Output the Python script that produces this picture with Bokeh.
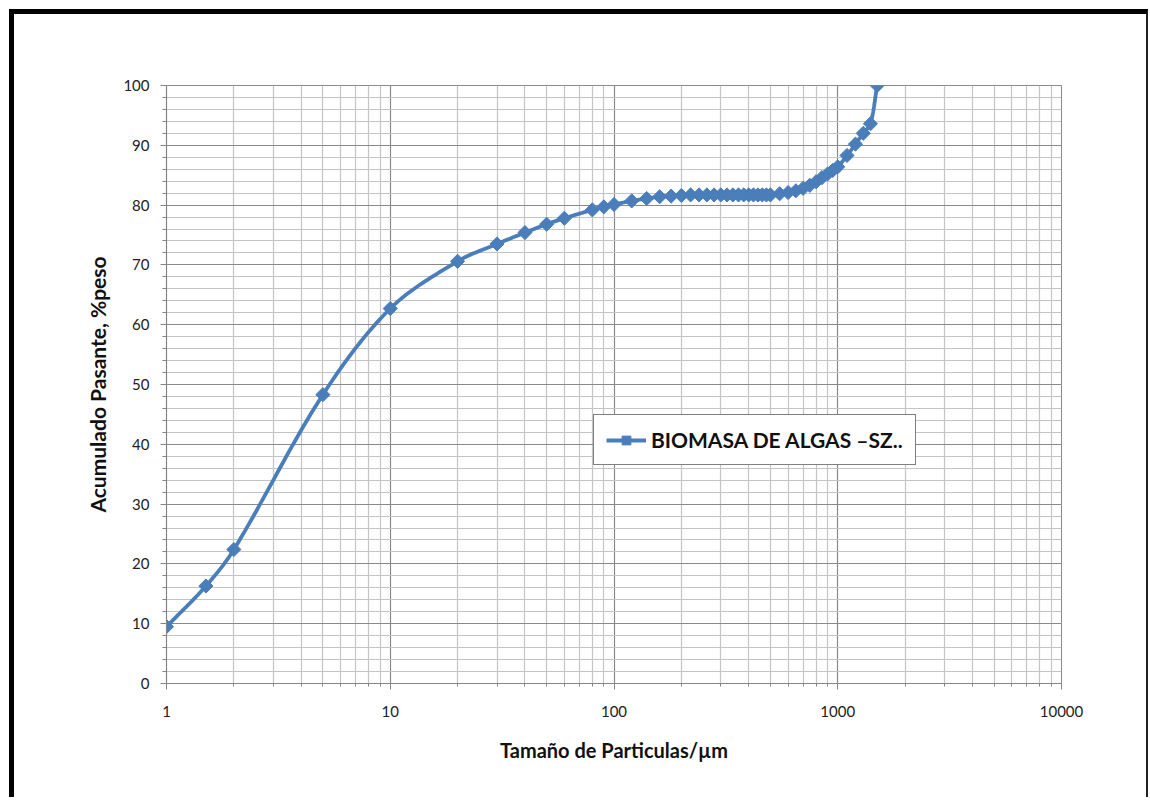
import numpy as np
from bokeh.plotting import figure
from bokeh.models import (Range1d, FixedTicker, NumeralTickFormatter, Legend,
                          LegendItem, ColumnDataSource)
from bokeh.embed import file_html
from bokeh.resources import INLINE

# ---- data ----
sizes = [1, 1.5, 2, 5, 10, 20, 30, 40, 50, 60, 80, 90, 100, 120, 140, 160, 180,
         200, 220, 240, 260, 280, 300, 320, 340, 360, 380, 400, 420, 440, 460,
         480, 500, 550, 600, 650, 700, 750, 800, 850, 900, 950, 1000, 1100,
         1200, 1300, 1400, 1500]
passing = [9.5, 16.3, 22.4, 48.3, 62.7, 70.6, 73.5, 75.4, 76.8, 77.8, 79.2,
           79.7, 80.1, 80.7, 81.1, 81.4, 81.5, 81.6, 81.7, 81.7, 81.7, 81.7,
           81.7, 81.7, 81.7, 81.7, 81.7, 81.7, 81.7, 81.7, 81.7, 81.7, 81.7,
           81.9, 82.1, 82.4, 82.8, 83.3, 83.9, 84.6, 85.2, 85.8, 86.4, 88.3,
           90.2, 92.0, 93.6, 100.0]
series_name = "BIOMASA DE ALGAS \u2013SZ.."
x_ticks = [1, 10, 100, 1000, 10000]
x_minor = [m * d for d in [1, 10, 100, 1000] for m in range(2, 10)]
y_ticks = list(range(0, 101, 10))
y_minor = list(range(0, 101, 2))
x_title = "Tamaño de Particulas/µm"
y_title = "Acumulado Pasante, %peso"

BLUE = "#4A7EBB"
FONT = "Lato"


def smooth_path(xs, ys, n=24, k=1.0 / 3.0):
    """Excel-like smoothed line: Bezier segments with tangents split by
    neighbouring segment lengths (measured in approximate pixel space)."""
    lx = np.log10(np.asarray(xs, float))
    yy = np.asarray(ys, float)
    sxp, syp = 224.0, 5.98  # pixels per decade / per unit (for lengths only)
    P = np.column_stack([lx * sxp, yy * syp])
    N = len(P)
    out_c, in_c = [None] * N, [None] * N
    for i in range(N):
        if i == 0:
            out_c[i] = P[0] + (P[1] - P[0]) * k
            continue
        if i == N - 1:
            in_c[i] = P[i] - (P[i] - P[i - 1]) * k
            continue
        m = P[i + 1] - P[i - 1]
        a = np.linalg.norm(P[i] - P[i - 1])
        b = np.linalg.norm(P[i + 1] - P[i])
        in_c[i] = P[i] - m * a / (a + b) * k
        out_c[i] = P[i] + m * b / (a + b) * k
    pts = []
    for i in range(N - 1):
        p1, c1, c2, p2 = P[i], out_c[i], in_c[i + 1], P[i + 1]
        for t in np.linspace(0, 1, n, endpoint=False):
            pts.append(((1 - t) ** 3) * p1 + 3 * ((1 - t) ** 2) * t * c1 +
                       3 * (1 - t) * t * t * c2 + t ** 3 * p2)
    pts.append(P[-1])
    pts = np.array(pts)
    return 10 ** (pts[:, 0] / sxp), pts[:, 1] / syp


sx, sy = smooth_path(sizes, passing)

p = figure(width=1139, height=788, x_axis_type="log",
           x_range=Range1d(1, 10000), y_range=Range1d(0, 100),
           output_backend="svg", toolbar_location=None,
           min_border_left=152, min_border_top=71,
           min_border_right=92, min_border_bottom=119,
           background_fill_color="white", border_fill_color="white")
p.styles = {"border-top": "5px solid #000", "border-left": "5px solid #000",
            "border-right": "2px solid #222", "margin-left": "9px",
            "margin-top": "9px"}

p.outline_line_color = "#8a8a8a"
p.outline_line_width = 1

# grids
for g in (p.xgrid, p.ygrid):
    g.grid_line_color = "#8a8a8a"
    g.grid_line_width = 1.2
    g.minor_grid_line_color = "#c4c4c4"
    g.minor_grid_line_width = 1.2

# axes
p.xaxis.ticker = FixedTicker(ticks=x_ticks, minor_ticks=x_minor)
p.yaxis.ticker = FixedTicker(ticks=y_ticks, minor_ticks=y_minor)
p.xaxis.formatter = NumeralTickFormatter(format="0")
for ax in (p.xaxis, p.yaxis):
    ax.axis_line_color = "#868686"
    ax.axis_line_width = 1.2
    ax.major_tick_line_color = "#868686"
    ax.minor_tick_line_color = "#868686"
    ax.major_tick_in = 0
    ax.major_tick_out = 6
    ax.minor_tick_in = 0
    ax.minor_tick_out = 4
    ax.major_label_text_font = FONT
    ax.major_label_text_font_size = "15px"
    ax.major_label_text_color = "#222222"
    ax.axis_label_text_font = FONT
    ax.axis_label_text_font_style = "bold"
    ax.axis_label_text_color = "#111111"
p.xaxis.axis_label_text_font_size = "20px"
p.yaxis.axis_label_text_font_size = "21px"
p.xaxis.minor_tick_out = 3
p.xaxis.major_label_standoff = 16
p.yaxis.major_label_standoff = 11
p.xaxis.axis_label = x_title
p.yaxis.axis_label = y_title
p.xaxis.axis_label_standoff = 18
p.yaxis.axis_label_standoff = 10

src = ColumnDataSource(dict(x=sizes, y=passing))
ln = p.line(sx, sy, line_color=BLUE, line_width=3.8)
mk = p.scatter("x", "y", source=src, marker="square", angle=np.pi / 4,
               size=10, fill_color=BLUE, line_color=BLUE)

legend = Legend(items=[LegendItem(label=series_name, renderers=[ln, mk])],
                location=(427, 218))
legend.border_line_color = "#000000"
legend.border_line_width = 1.5
legend.background_fill_color = "white"
legend.background_fill_alpha = 1
legend.label_text_font = FONT
legend.label_text_font_style = "bold"
legend.label_text_font_size = "21px"
legend.label_text_color = "#111111"
legend.glyph_width = 40
legend.glyph_height = 22
legend.label_standoff = 5
legend.padding = 12
legend.margin = 0
p.add_layout(legend, "center")

open("out.html", "w").write(file_html(p, INLINE))
